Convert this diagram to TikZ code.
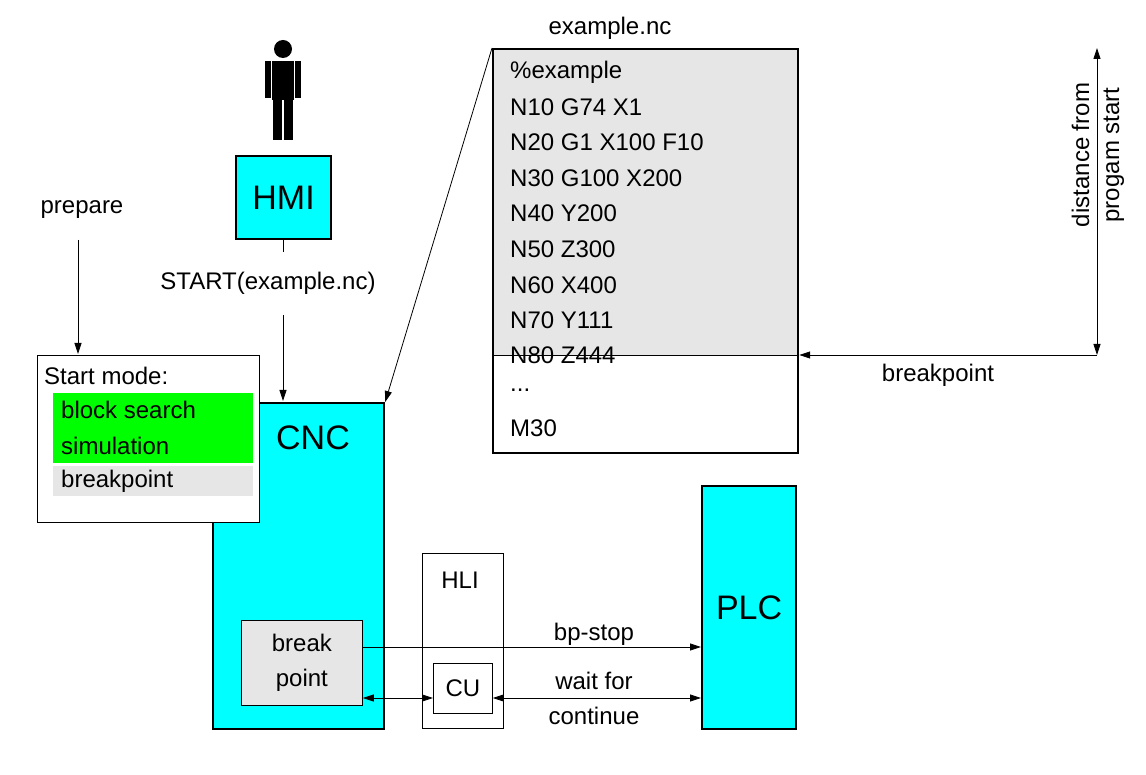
\documentclass[tikz,border=0pt]{standalone}
\usepackage{fontspec}
\setmainfont{Liberation Sans}
\usetikzlibrary{arrows.meta}
\definecolor{cy}{RGB}{0,255,255}
\definecolor{gr}{RGB}{0,255,0}
\definecolor{lg}{RGB}{230,230,230}
\begin{document}
\begin{tikzpicture}[x=1pt,y=-1pt,
  big/.style={draw,line width=2.2pt,fill=cy},
  thin/.style={draw,line width=0.8pt},
  lab/.style={font=\fontsize{24}{28}\selectfont,inner sep=0pt},
  huge/.style={font=\fontsize{34}{38}\selectfont,inner sep=0pt},
  arr/.style={line width=0.8pt,-{Triangle[length=11pt,width=7pt]}},
  darr/.style={line width=0.8pt,{Triangle[length=11pt,width=7pt]}-{Triangle[length=11pt,width=7pt]}}]
\useasboundingbox (0,0) rectangle (1146,775);
% person
\fill (283,49) circle (9);
\fill (272,61) rectangle (294,100);
\fill (265,61) rectangle (271,98);
\fill (295,61) rectangle (301,98);
\fill (273,100) rectangle (282,140);
\fill (284,100) rectangle (293,140);
% HMI
\node[big,minimum width=95,minimum height=83,anchor=north west,huge] (hmi) at (235,155) {};
\node[huge] at (hmi) {HMI};
\draw[line width=0.8pt] (hmi.south) -- ++(0,12);
\node[lab] (start) at (268,283) {START(example.nc)};
% CNC
\node[big,minimum width=171,minimum height=326,anchor=north west] (cnc) at (212,402) {};
\node[huge] at (313,438) {CNC};
\coordinate (s1) at (283,315);
\draw[arr] (s1) -- (283,401);
% prepare
\node[lab] (prep) at (82,210) {prepare};
\coordinate (p1) at (78,240);
\draw[arr] (p1) -- (78,354);
% start mode
\node[thin,fill=white,minimum width=222,minimum height=167,anchor=north west] (sm) at (37,355) {};
\node[lab,anchor=west] at (44,376) {Start mode:};
\fill[gr] (53,393) rectangle (253,463);
\fill[lg] (53,466) rectangle (253,496);
\node[lab,anchor=west] at (61,410) {block search};
\node[lab,anchor=west] at (61,446) {simulation};
\node[lab,anchor=west] at (61,481) {breakpoint};
% breakpoint box
\node[thin,fill=lg,minimum width=121,minimum height=85,anchor=north west] (bp) at (241,620) {};
\node[lab,align=center,font=\fontsize{24}{35}\selectfont] at (bp) {break\\point};
% HLI
\node[draw,line width=0.5pt,fill=white,minimum width=81,minimum height=175,anchor=north west] (hli) at (422,553) {};
\node[lab] at (460,580) {HLI};
\node[thin,fill=white,minimum width=59,minimum height=50,anchor=north west] (cu) at (433,663) {};
\node[lab] at (cu) {CU};
% PLC
\node[big,minimum width=94,minimum height=243,anchor=north west] (plc) at (701,485) {};
\node[huge] at (plc) {PLC};
% connectors
\draw[arr] (362,647) -- (plc.west |- 0,647);
\node[lab] at (594,634) {bp-stop};
\draw[darr] (bp.east |- 0,698) -- (cu.west |- 0,698);
\draw[darr] (cu.east |- 0,698) -- (plc.west |- 0,698);
\node[lab,align=center,font=\fontsize{24}{35}\selectfont] at (594,698) {wait for\\continue};
% example.nc
\fill[lg] (492,48) rectangle (797,355);
\node[draw,line width=2.2pt,minimum width=305,minimum height=404,anchor=north west] (ex) at (492,48) {};
\draw[line width=0.8pt] (492,355) -- (797,355);
\node[lab] at (610,28) {example.nc};
\foreach \t/\y in {{\%example}/72,{N10 G74 X1}/107,{N20 G1 X100 F10}/142,{N30 G100 X200}/178,{N40 Y200}/213,{N50 Z300}/249,{N60 X400}/285,{N70 Y111}/320,{N80 Z444}/355,{...}/390,{M30}/428}
  \node[lab,anchor=west] at (510,\y) {\t};
\draw[arr] (ex.north west) -- (cnc.north east);
% breakpoint arrow
\coordinate (b1) at (1097,355);
\coordinate (b0) at (1097,48);
\draw[arr] (b1) -- (ex.east |- 0,355);
\node[lab] at (938,375) {breakpoint};
\draw[darr] (b0) -- (b1);
\node[lab,rotate=90,align=center,font=\fontsize{24}{30}\selectfont] at (1098,155) {distance from\\progam start};
\end{tikzpicture}
\end{document}
